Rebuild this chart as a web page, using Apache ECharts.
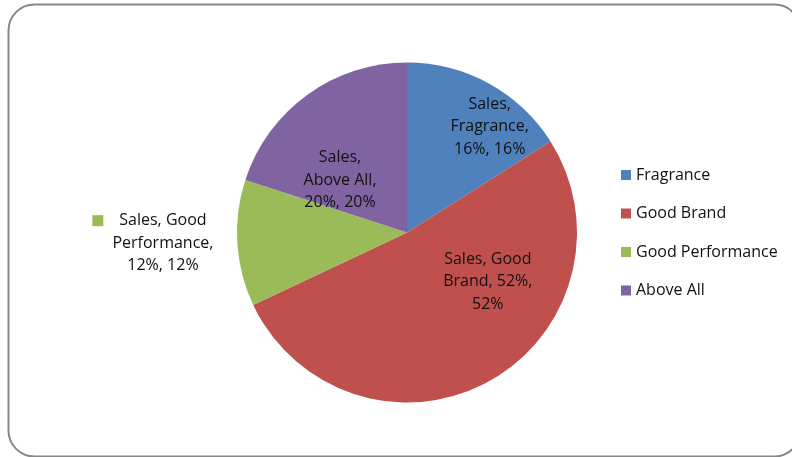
<!DOCTYPE html>
<html>
<head>
<meta charset="utf-8">
<script src="https://cdn.jsdelivr.net/npm/echarts@6/dist/echarts.min.js"></script>
<style>
  html, body { margin: 0; padding: 0; background: #fff; }
  #chart { width: 792px; height: 457px; }
</style>
</head>
<body>
<div id="chart"></div>
<script>
// Series and category data
const seriesName = 'Sales';
const categories = ['Fragrance', 'Good Brand', 'Good Performance', 'Above All'];
const values = [0.16, 0.52, 0.12, 0.20];
const colors = ['#4F81BD', '#C0504D', '#9BBB59', '#8064A2'];

// Words per label line, and label anchor (degrees clockwise from top, radius fraction)
const lineGroups = [[1, 1, 2], [2, 2, 1], [2, 1, 2], [1, 2, 2]];
const labelAnchors = [[38, 0.79], [121.4, 0.557], [267.5, 1.437], [308, 0.5]];
// Label that carries its own colour key
const keyedLabel = 2;

const center = [407, 232.5];
const radius = 170;
const fontFamily = '"Open Sans", sans-serif';
const textColor = '#111111';

function pct(v) { return Math.round(v * 100) + '%'; }

function labelText(params) {
  const i = params.dataIndex;
  const words = [seriesName + ','].concat(params.name.split(' '));
  words[words.length - 1] += ',';
  words.push(pct(params.value) + ',', Math.round(params.percent) + '%');
  const lines = [];
  let k = 0;
  lineGroups[i].forEach(function (n) {
    lines.push(words.slice(k, k + n).join(' '));
    k += n;
  });
  if (i === keyedLabel) {
    lines[0] = '{key|}{gap|}' + lines[0] + '{pad|}';
  }
  return lines.join('\n');
}

const chart = echarts.init(document.getElementById('chart'), null, { renderer: 'canvas' });

chart.setOption({
  animation: false,
  color: colors,
  textStyle: { fontFamily: fontFamily },
  graphic: [{
    type: 'rect',
    shape: { x: 8.5, y: 4.5, width: 792, height: 452, r: 26 },
    style: { fill: 'none', stroke: '#878787', lineWidth: 2 },
    silent: true,
    z: -1
  }],
  legend: {
    orient: 'vertical',
    left: 621,
    top: 167,
    padding: 0,
    icon: 'rect',
    itemWidth: 10,
    itemHeight: 10,
    itemGap: 22.5,
    textStyle: { fontSize: 16, lineHeight: 16, color: textColor, fontFamily: fontFamily },
    data: categories
  },
  series: [{
    type: 'pie',
    name: seriesName,
    center: center,
    radius: radius,
    startAngle: 90,
    clockwise: true,
    label: {
      show: true,
      position: 'inside',
      formatter: labelText,
      fontSize: 16,
      lineHeight: 22.5,
      color: textColor,
      align: 'center',
      fontFamily: fontFamily,
      rich: {
        key: { width: 11, height: 11, backgroundColor: colors[keyedLabel], verticalAlign: 'middle' },
        gap: { width: 16 },
        pad: { width: 27 }
      }
    },
    labelLine: { show: false },
    labelLayout: function (params) {
      const a = labelAnchors[params.dataIndex];
      const rad = a[0] * Math.PI / 180;
      return {
        x: center[0] + Math.sin(rad) * radius * a[1],
        y: center[1] - Math.cos(rad) * radius * a[1],
        align: 'center',
        verticalAlign: 'middle'
      };
    },
    itemStyle: { borderWidth: 0 },
    emphasis: { disabled: true },
    data: categories.map(function (c, i) { return { name: c, value: values[i] }; })
  }]
});
</script>
</body>
</html>
